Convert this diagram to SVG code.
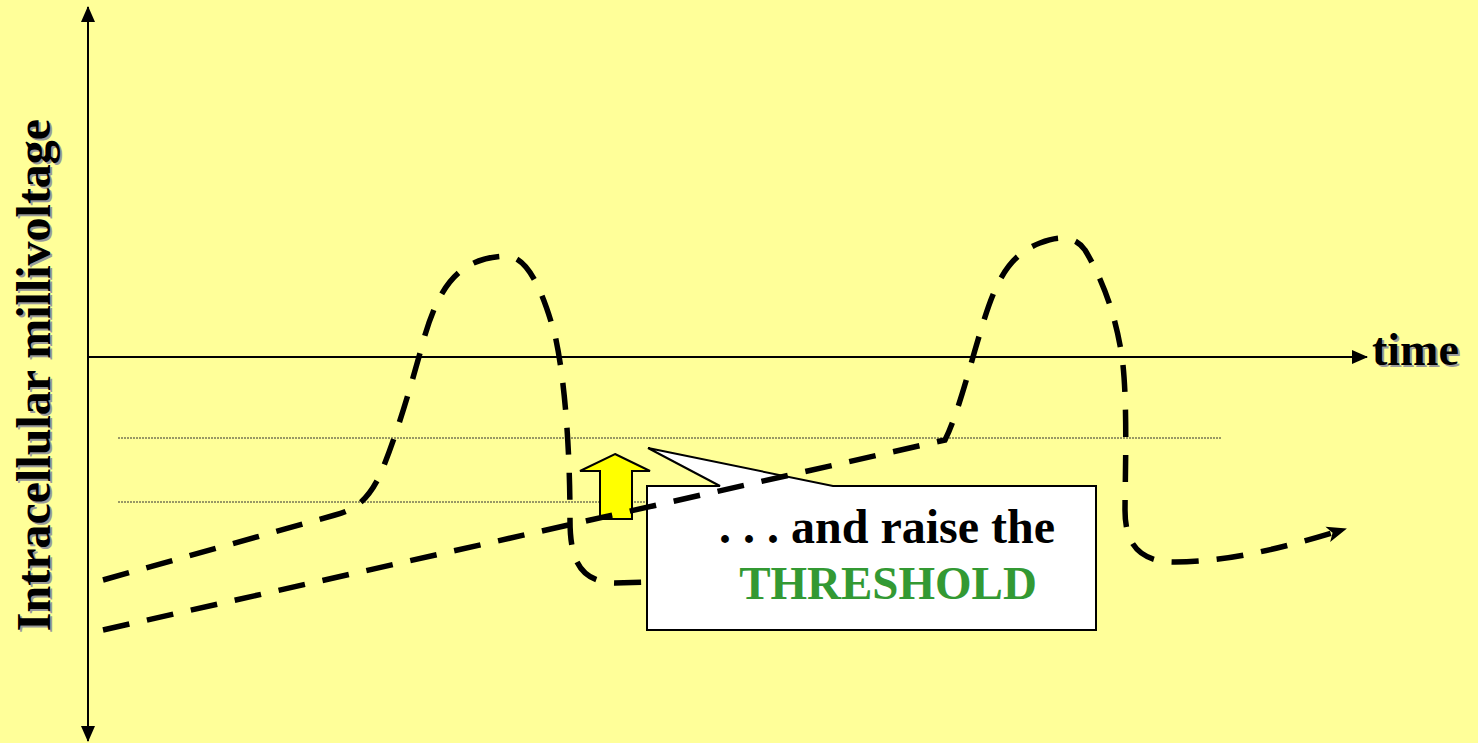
<svg xmlns="http://www.w3.org/2000/svg" width="1478" height="743" viewBox="0 0 1478 743">
<style>
.axis{stroke:#000;stroke-width:2;fill:none}
.dot{stroke:#333;stroke-width:1;stroke-dasharray:2 1;fill:none}
.curve{stroke:#000;stroke-width:5.5;stroke-dasharray:27 18;fill:none}
.lbl{font-family:"Liberation Serif","Times New Roman",serif;font-weight:bold}
.shadow{fill:#9a9a9a}
</style>
<defs>
<marker id="axArrow" viewBox="0 0 16 14" refX="15" refY="7" markerWidth="16" markerHeight="14" markerUnits="userSpaceOnUse" orient="auto">
<path d="M0,0 L16,7 L0,14 Z" fill="#000"/>
</marker>
<marker id="stealth" viewBox="0 0 20 18" refX="18" refY="9" markerWidth="20" markerHeight="18" markerUnits="userSpaceOnUse" orient="auto">
<path d="M0,1 L20,9 L0,17 L5,9 Z" fill="#000"/>
</marker>
</defs>
<rect x="0" y="0" width="1478" height="743" fill="#FFFF99"/>

<g id="axes">
<line class="axis" x1="88" y1="370" x2="88" y2="7" marker-end="url(#axArrow)"/>
<line class="axis" x1="88" y1="370" x2="88" y2="741" marker-end="url(#axArrow)"/>
<line class="axis" x1="88" y1="357" x2="1367" y2="357" marker-end="url(#axArrow)"/>
</g>

<g id="y-label">
<text class="lbl shadow" font-size="48" text-anchor="middle" transform="translate(52,377) rotate(-90)">Intracellular millivoltage</text>
<text class="lbl" font-size="48" text-anchor="middle" fill="#000" transform="translate(50,375) rotate(-90)">Intracellular millivoltage</text>
</g>

<g id="x-label">
<text class="lbl shadow" font-size="46" x="1374" y="367">time</text>
<text class="lbl" font-size="46" x="1372" y="365" fill="#000">time</text>
</g>

<g id="threshold-lines">
<line class="dot" x1="118" y1="438" x2="1222" y2="438"/>
<line class="dot" x1="118" y1="502" x2="647" y2="502"/>
</g>

<g id="connectors">
<path id="curve1" class="curve" d="M103,580 L335,515 C355,510 368,500 380,475 C395,440 410,390 425,335 C440,285 460,258 505,256 C530,255 545,300 555,335 C565,380 570,450 570,520 C570,560 580,582 615,583 L650,582"/>
</g>

<g id="raise-arrow">
<polygon points="615,454 650,471 632,471 632,519 600,519 600,471 580,471" fill="#FFFF00" stroke="#000" stroke-width="2" stroke-linejoin="miter"/>
</g>

<g id="callout">
<path d="M647,486 L720,486 L648,448 L833,486 L1096,486 L1096,630 L647,630 Z" fill="#FFFFFF" stroke="#000" stroke-width="2" stroke-linejoin="miter"/>
<text class="lbl" font-size="48" x="887" y="543" text-anchor="middle" fill="#000">. . . and raise the</text>
<text class="lbl" font-size="47" x="888" y="599" text-anchor="middle" fill="#339933">THRESHOLD</text>
</g>

<g id="connectors-top">
<path id="curve2" class="curve" d="M103,630 L945,440 C955,420 965,385 975,350 C990,300 1000,258 1040,243 C1060,235 1075,236 1085,250 C1100,275 1115,310 1122,357 C1128,400 1125,480 1125,510 C1125,545 1140,562 1175,562 C1230,562 1290,546 1345,529" marker-end="url(#stealth)"/>
</g>
</svg>
